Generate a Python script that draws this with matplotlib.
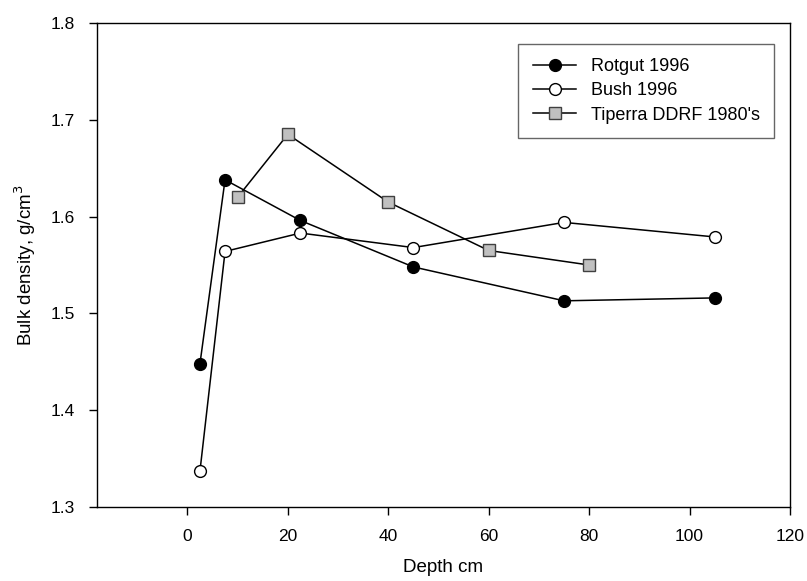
import matplotlib
matplotlib.use('Agg')
import matplotlib.pyplot as plt

plt.rcParams['font.family'] = ['Liberation Sans', 'DejaVu Sans']

# depth (cm) and bulk density (g/cm3) for each profile
rotgut_depth = [2.5, 7.5, 22.5, 45, 75, 105]
rotgut_bd = [1.448, 1.638, 1.596, 1.548, 1.513, 1.516]

bush_depth = [2.5, 7.5, 22.5, 45, 75, 105]
bush_bd = [1.337, 1.564, 1.583, 1.568, 1.594, 1.579]

tiperra_depth = [10, 20, 40, 60, 80]
tiperra_bd = [1.620, 1.685, 1.615, 1.565, 1.550]

x_ticks = [0, 20, 40, 60, 80, 100, 120]
y_ticks = [1.3, 1.4, 1.5, 1.6, 1.7, 1.8]

fig = plt.figure(figsize=(8.07, 5.81), dpi=100)
ax = fig.add_axes([97 / 807, 1 - 507 / 581, (790 - 97) / 807, (507 - 23) / 581])

ax.plot(rotgut_depth, rotgut_bd, '-o', color='black', lw=1.1,
        ms=8.5, mfc='black', mec='black', label='Rotgut 1996', zorder=3)
ax.plot(bush_depth, bush_bd, '-o', color='black', lw=1.1,
        ms=8.5, mfc='white', mec='black', label='Bush 1996', zorder=3)
ax.plot(tiperra_depth, tiperra_bd, '-s', color='black', lw=1.1,
        ms=8, mfc='#c0c0c0', mec='#404040', label="Tiperra DDRF 1980's", zorder=3)

ax.set_xlim(-18, 120)
ax.set_ylim(1.3, 1.8)
ax.set_xticks(x_ticks)
ax.set_yticks(y_ticks)
ax.set_yticklabels([f"{v:.1f}" for v in y_ticks])
ax.tick_params(direction='out', length=6, width=1, labelsize=12.5, pad=10,
               top=False, right=False)
for sp in ax.spines.values():
    sp.set_linewidth(1)

ax.set_xlabel('Depth cm', fontsize=13.5, labelpad=11)
ax.set_ylabel('Bulk density, g/cm$^3$', fontsize=13.5, labelpad=9)

leg = ax.legend(loc='upper right', bbox_to_anchor=(0.977, 0.957), fontsize=13,
                frameon=True, fancybox=False, edgecolor='#404040',
                handlelength=2.4, borderpad=0.8, labelspacing=0.4,
                handletextpad=0.8, borderaxespad=0)
leg.get_frame().set_linewidth(1)

fig.savefig('out.png', dpi=100, facecolor='white')
